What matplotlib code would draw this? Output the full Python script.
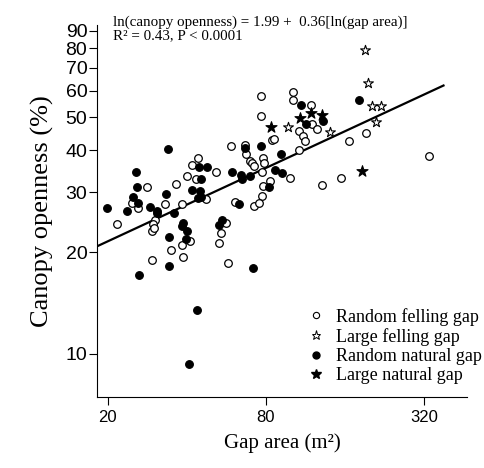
import numpy as np
import matplotlib
matplotlib.use("Agg")
import matplotlib.pyplot as plt
from matplotlib.lines import Line2D

# Random felling gap (open circles): gap area (m2), canopy openness (%)
rf_area = [76.6, 101.1, 101.7, 76.8, 107.2, 59.2, 66.7, 67.3, 84.3, 85.6,
           106.9, 69.5, 70.6, 72.2, 78.1, 78.8, 77.5, 98.5, 83.1, 77.9,
           77.7, 60.8, 72.2, 75.1, 44.2, 42.0, 51.9, 40.0, 43.3, 36.5,
           47.3, 38.3, 32.9, 28.1, 24.8, 26.1, 21.6, 30.4, 29.8, 29.4,
           29.9, 41.0, 38.4, 34.8, 38.7, 29.5, 56.3, 53.8, 53.0, 57.5,
           118.7, 119.5, 124.9, 111.0, 112.7, 192.4, 165.4, 334.5, 154.5, 130.8]
rf_open = [57.8, 59.4, 56.3, 50.5, 45.6, 41.2, 41.4, 39.0, 42.9, 43.2,
           40.0, 37.2, 36.7, 35.9, 37.8, 36.6, 34.5, 33.1, 32.5, 31.4,
           29.3, 28.1, 27.4, 27.9, 37.8, 36.1, 34.5, 33.5, 32.9, 31.7,
           28.6, 27.8, 27.7, 31.2, 28.0, 27.0, 24.2, 24.9, 24.2, 23.1,
           23.5, 21.6, 21.0, 20.3, 19.4, 19.0, 24.4, 22.7, 21.3, 18.5,
           54.4, 47.8, 46.2, 44.1, 42.7, 45.0, 42.7, 38.5, 33.0, 31.5]

# Large felling gap (open stars)
lf_area = [190.7, 195.3, 203.4, 219.4, 210.0, 96.8, 140.3]
lf_open = [79.0, 63.0, 54.0, 54.0, 48.6, 46.9, 45.3]

# Random natural gap (filled circles)
rn_area = [108.5, 33.9, 66.9, 76.8, 91.3, 86.4, 92.1, 59.5, 64.3, 65.0,
           69.7, 82.1, 63.5, 44.7, 47.8, 45.2, 41.7, 44.8, 45.2, 44.3,
           33.2, 35.8, 25.7, 25.8, 24.9, 26.1, 19.8, 23.7, 28.9, 30.7,
           30.8, 38.7, 38.2, 40.1, 39.7, 34.2, 54.7, 53.1, 26.2, 34.2,
           71.2, 43.7, 40.8, 181.0, 113.7, 132.3]
rn_open = [54.4, 40.2, 40.5, 41.1, 38.9, 34.9, 34.3, 34.5, 33.8, 32.8,
           33.6, 31.2, 27.8, 35.7, 35.7, 32.9, 30.4, 30.3, 29.1, 28.9,
           29.6, 26.0, 34.5, 31.1, 29.1, 28.0, 27.0, 26.4, 27.1, 26.5,
           26.0, 24.4, 23.8, 23.1, 21.8, 22.1, 24.9, 24.0, 17.1, 18.2,
           17.9, 13.5, 9.36, 56.3, 47.7, 48.9]

# Large natural gap (filled stars)
ln_area = [83.4, 107.8, 118.7, 131.1, 185.3]
ln_open = [46.7, 49.7, 51.6, 50.8, 34.8]

# Fitted line: ln(openness) = 1.99 + 0.36 ln(area)
fit_a, fit_b = 1.99, 0.36
fit_area = np.array([18.2, 380.0])

x_ticks = [20, 80, 320]
y_ticks = [10, 20, 30, 40, 50, 60, 70, 80, 90]

serif = "Liberation Serif"
sans = "Liberation Sans"

fig = plt.figure(figsize=(4.84, 4.68), dpi=100)
fig.patch.set_facecolor("white")
ax = fig.add_axes([97 / 484, 1 - 397 / 468, 370 / 484, 372 / 468])

ax.set_xscale("log")
ax.set_yscale("log")
ax.set_xlim(18.2, 467)
ax.set_ylim(7.46, 93.7)

ms = 30
ax.scatter(rf_area, rf_open, s=ms, facecolors="white", edgecolors="black", linewidths=0.9, zorder=3)
ax.scatter(rn_area, rn_open, s=ms, facecolors="black", edgecolors="black", linewidths=0.9, zorder=3)
ax.scatter(lf_area, lf_open, s=55, marker="*", facecolors="white", edgecolors="black", linewidths=0.8, zorder=4)
ax.scatter(ln_area, ln_open, s=70, marker="*", facecolors="black", edgecolors="black", linewidths=0.8, zorder=4)

ax.plot(fit_area, np.exp(fit_a + fit_b * np.log(fit_area)), color="black", lw=1.6, zorder=2)

ax.set_xticks(x_ticks)
ax.set_xticklabels([str(t) for t in x_ticks], fontfamily=sans, fontsize=12)
ax.set_yticks(y_ticks)
ax.set_yticklabels([str(t) for t in y_ticks], fontfamily=sans, fontsize=14)
ax.minorticks_off()
ax.tick_params(axis="x", direction="out", length=6, width=0.8, pad=3)
ax.tick_params(axis="y", direction="out", length=6, width=0.8, pad=1)

for s in ["top", "right"]:
    ax.spines[s].set_visible(False)
for s in ["left", "bottom"]:
    ax.spines[s].set_linewidth(0.8)

ax.set_xlabel("Gap area (m²)", fontfamily=serif, fontsize=15, labelpad=6)
ax.set_ylabel("Canopy openness (%)", fontfamily=serif, fontsize=19, labelpad=8)

# Regression equation, two tight lines above the plot
fig.text(113 / 484, 1 - 26 / 468, "ln(canopy openness) = 1.99 +  0.36[ln(gap area)]",
         fontfamily=serif, fontsize=10.8, va="baseline", ha="left")
fig.text(113 / 484, 1 - 39.5 / 468, "R² = 0.43, P < 0.0001",
         fontfamily=serif, fontsize=10.8, va="baseline", ha="left")

handles = [
    Line2D([], [], ls="none", marker="o", ms=4.5, mfc="white", mec="black", mew=0.8),
    Line2D([], [], ls="none", marker="*", ms=6.5, mfc="white", mec="black", mew=0.7),
    Line2D([], [], ls="none", marker="o", ms=5, mfc="black", mec="black"),
    Line2D([], [], ls="none", marker="*", ms=7, mfc="black", mec="black"),
]
labels = ["Random felling gap", "Large felling gap", "Random natural gap", "Large natural gap"]
leg = ax.legend(handles, labels, loc="lower left", frameon=False, handlelength=1.0,
                handletextpad=0.6, labelspacing=0.12, borderpad=0, borderaxespad=0,
                prop={"family": serif, "size": 13})
leg.set_bbox_to_anchor((307 / 484, (468 - 384) / 468), transform=fig.transFigure)

fig.savefig("out.png", dpi=100, facecolor="white")
